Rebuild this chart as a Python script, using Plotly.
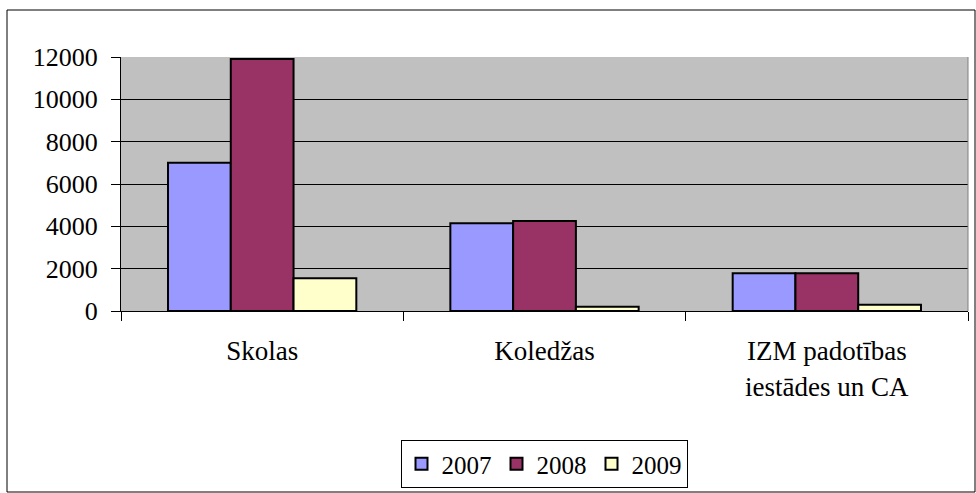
import plotly.graph_objects as go

categories = ["Skolas", "Koledžas", "IZM padotības<br>iestādes un CA"]
years = ["2007", "2008", "2009"]
values_2007 = [7000, 4150, 1780]
values_2008 = [11900, 4250, 1780]
values_2009 = [1550, 200, 300]
y_ticks = [0, 2000, 4000, 6000, 8000, 10000, 12000]

colors = ["#9999FF", "#993366", "#FFFFCC"]
series = [values_2007, values_2008, values_2009]

W, H = 976, 493
L, R, T, B = 121, 968, 57, 311
pw, ph = R - L, B - T

fig = go.Figure()
for name, vals, c in zip(years, series, colors):
    fig.add_trace(go.Bar(x=categories, y=vals, name=name,
                         marker=dict(color=c, line=dict(color="black", width=2))))

fam = "Liberation Serif"
font = dict(family=fam, size=26, color="black")

fig.update_layout(
    width=W, height=H,
    margin=dict(l=L, r=W - R, t=T, b=H - B, pad=0, autoexpand=False),
    paper_bgcolor="white", plot_bgcolor="#C0C0C0",
    barmode="group", bargap=0.333, bargroupgap=0,
    font=font,
    showlegend=True,
    legend=dict(orientation="h", x=544 / W, xanchor="center", xref="container",
                y=(H - 440) / H, yanchor="top", yref="container",
                bordercolor="black", borderwidth=1, bgcolor="white",
                font=dict(family=fam, size=25, color="black"),
                itemwidth=30, tracegroupgap=0),
    xaxis=dict(showline=True, linecolor="black", linewidth=1,
               ticks="outside", tickson="boundaries", ticklen=9, tickcolor="black",
               showgrid=False, tickfont=dict(family=fam, size=27, color="black"),
               ticklabelstandoff=16, automargin=False),
    yaxis=dict(range=[0, 12000], tickvals=y_ticks, ticktext=[str(v) for v in y_ticks],
               showline=True, linecolor="black",
               linewidth=1, ticks="outside", ticklen=9, tickcolor="black",
               showgrid=True, gridcolor="black", gridwidth=1, zeroline=False,
               tickfont=font, ticklabelstandoff=8, automargin=False),
    shapes=[dict(type="rect", xref="paper", yref="paper",
                 x0=(7 - L) / pw, x1=(975 - L) / pw,
                 y0=(B - 492) / ph, y1=(B - 10) / ph,
                 line=dict(color="black", width=1), fillcolor="rgba(0,0,0,0)", layer="below"),
            dict(type="line", xref="paper", yref="paper", x0=1, x1=1, y0=0, y1=1,
                 line=dict(color="#808080", width=1))],
)

fig.write_html("out.html", config={"displayModeBar": False},
               post_script="document.body.style.margin='0';")
